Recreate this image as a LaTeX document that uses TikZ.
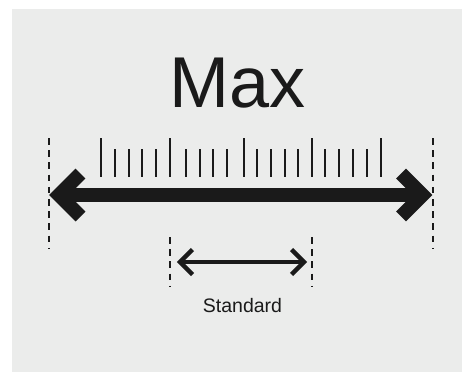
\documentclass[tikz,border=0pt]{standalone}
\usepackage{fontspec}
\setmainfont{Liberation Sans}
\definecolor{panelgray}{HTML}{EBECEB}
\definecolor{inkblack}{HTML}{1A1A1A}
\tikzset{
    scaletick/.style={line width=2.2pt,inkblack},
    limitline/.style={line width=2.8pt,inkblack,dash pattern=on 6.5pt off 5.7pt},
    bigshaft/.style={line width=14pt,inkblack},
    bighead/.style={line width=14pt,inkblack,line join=miter,miter limit=10},
    smallshaft/.style={line width=4.5pt,inkblack},
    smallhead/.style={line width=4.5pt,inkblack,line join=miter,miter limit=10},
}
\begin{document}
\begin{tikzpicture}[x=1pt,y=-1pt]
    \useasboundingbox (0,0) rectangle (462,372);
    \fill[panelgray] (12,9) rectangle (462,372);

    \node[inner sep=0pt,inkblack,font=\fontsize{72}{80}\selectfont] (maxlabel) at (237.5,83.5) {Max};
    \node[inner sep=0pt,inkblack,font=\fontsize{19.5}{22}\selectfont] (stdlabel) at (242.5,306) {Standard};

    \draw[scaletick] (101,138) -- (101,177);
    \draw[scaletick] (115,149) -- (115,177);
    \draw[scaletick] (128.7,149) -- (128.7,177);
    \draw[scaletick] (142.3,149) -- (142.3,177);
    \draw[scaletick] (155.7,149) -- (155.7,177);
    \draw[scaletick] (170,138) -- (170,177);
    \draw[scaletick] (185.7,149) -- (185.7,177);
    \draw[scaletick] (199.7,149) -- (199.7,177);
    \draw[scaletick] (213,149) -- (213,177);
    \draw[scaletick] (227,149) -- (227,177);
    \draw[scaletick] (243.7,138) -- (243.7,177);
    \draw[scaletick] (257.3,149) -- (257.3,177);
    \draw[scaletick] (271,149) -- (271,177);
    \draw[scaletick] (284.7,149) -- (284.7,177);
    \draw[scaletick] (298,149) -- (298,177);
    \draw[scaletick] (312,138) -- (312,177);
    \draw[scaletick] (325.3,149) -- (325.3,177);
    \draw[scaletick] (339.3,149) -- (339.3,177);
    \draw[scaletick] (352.7,149) -- (352.7,177);
    \draw[scaletick] (366.7,149) -- (366.7,177);
    \draw[scaletick] (381,138) -- (381,177);

    \coordinate (maxtopL) at (49,138);
    \coordinate (maxbotL) at (49,248);
    \coordinate (maxtopR) at (433,138);
    \coordinate (maxbotR) at (433,248);
    \coordinate (stdtopL) at (170,237);
    \coordinate (stdbotL) at (170,286);
    \coordinate (stdtopR) at (312,237);
    \coordinate (stdbotR) at (312,286);

    \draw[limitline] (maxtopL) -- (maxbotL);
    \draw[limitline] (maxtopR) -- (maxbotR);
    \draw[limitline] (stdtopL) -- (stdbotL);
    \draw[limitline] (stdtopR) -- (stdbotR);

    \coordinate (maxL) at (59,195);
    \coordinate (maxR) at (422.5,195);
    \coordinate (stdL) at (180,262);
    \coordinate (stdR) at (304,262);

    \draw[bigshaft] (maxL) -- (maxR);
    \draw[bighead] ([shift={(21.5,-21.5)}]maxL) -- (maxL) -- ([shift={(21.5,21.5)}]maxL);
    \draw[bighead] ([shift={(-21.5,-21.5)}]maxR) -- (maxR) -- ([shift={(-21.5,21.5)}]maxR);

    \draw[smallshaft] (stdL) -- (stdR);
    \draw[smallhead] ([shift={(12.5,-12.5)}]stdL) -- (stdL) -- ([shift={(12.5,12.5)}]stdL);
    \draw[smallhead] ([shift={(-12.5,-12.5)}]stdR) -- (stdR) -- ([shift={(-12.5,12.5)}]stdR);
\end{tikzpicture}
\end{document}
